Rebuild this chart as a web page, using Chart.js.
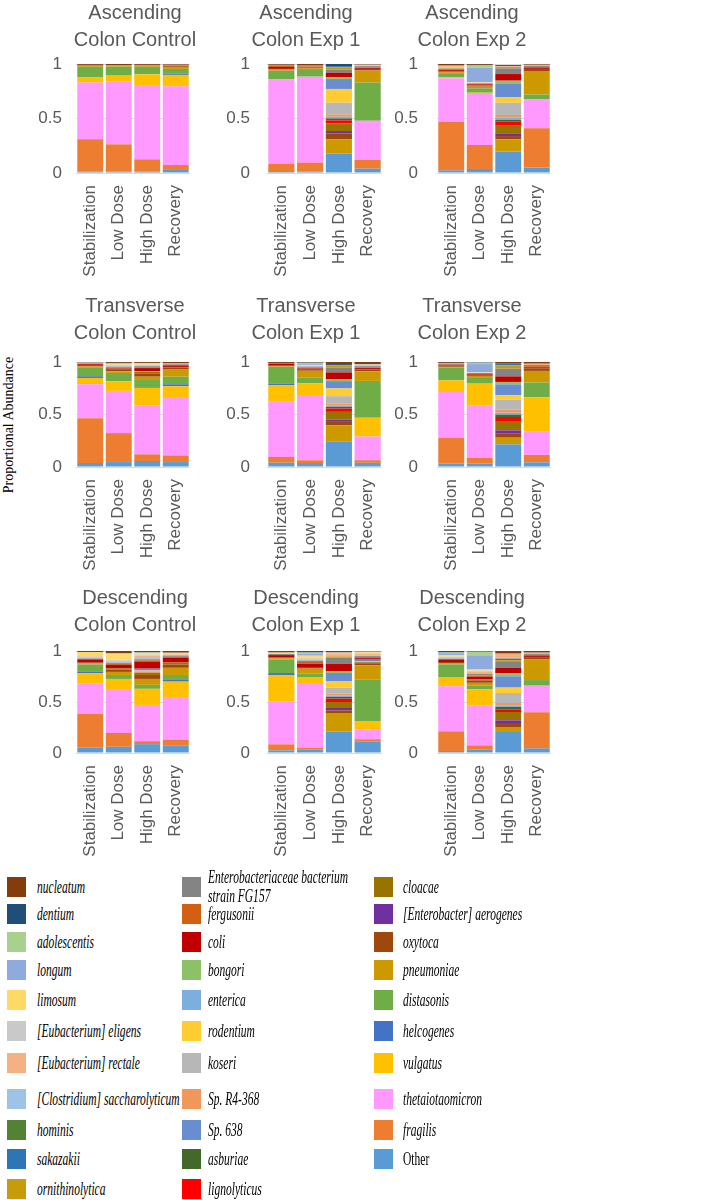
<!DOCTYPE html>
<html>
<head>
<meta charset="utf-8">
<script src="https://cdn.jsdelivr.net/npm/chart.js@4.4.1/dist/chart.umd.min.js"></script>
<style>
  body { margin: 0; background: #fff; }
  #page { position: relative; width: 705px; height: 1200px; overflow: hidden; background: #fff; }
  #page canvas { position: absolute; }
  .ytitle { position: absolute; left: 9px; top: 425px; transform: translate(-50%, -50%) rotate(-90deg);
            white-space: nowrap; font: 14px "Liberation Serif", "Times New Roman", serif; color: #000; }
  .sw { position: absolute; width: 19px; height: 20px; }
  .lt { position: absolute; font: italic 18px/19px "Liberation Serif", "Times New Roman", serif; color: #000;
        white-space: pre; transform: scaleX(0.64); transform-origin: left center; }
</style>
</head>
<body>
<div id="page"></div>
<script>
// categories
const stages = ['Stabilization', 'Low Dose', 'High Dose', 'Recovery'];
const panelTitles = [
  ['Ascending', 'Colon Control'], ['Ascending', 'Colon Exp 1'], ['Ascending', 'Colon Exp 2'],
  ['Transverse', 'Colon Control'], ['Transverse', 'Colon Exp 1'], ['Transverse', 'Colon Exp 2'],
  ['Descending', 'Colon Control'], ['Descending', 'Colon Exp 1'], ['Descending', 'Colon Exp 2']
];

// proportional abundance, 9 panels x 4 stages (panel order as panelTitles)
const other =        [0.015,0.015,0.012,0.028, 0.018,0.012,0.18,0.04, 0.024,0.037,0.196,0.05, 0.038,0.047,0.057,0.047, 0.041,0.038,0.245,0.04, 0.032,0.032,0.216,0.045, 0.055,0.061,0.087,0.071, 0.026,0.036,0.212,0.11, 0.02,0.036,0.206,0.045];
const fragilis =     [0.295,0.248,0.113,0.045, 0.065,0.083,0,0.08, 0.447,0.22,0,0.36, 0.427,0.276,0.063,0.063, 0.055,0.026,0,0.025, 0.244,0.054,0,0.07, 0.329,0.136,0.029,0.061, 0.059,0.016,0,0.025, 0.192,0.039,0,0.355];
const thetaiotaomicron = [0.52,0.575,0.675,0.722, 0.779,0.789,0,0.36, 0.398,0.468,0,0.26, 0.323,0.402,0.469,0.548, 0.525,0.621,0,0.225, 0.438,0.501,0,0.225, 0.3,0.422,0.355,0.416, 0.422,0.634,0,0.095, 0.442,0.392,0,0.26];
const vulgatus =     [0.05,0.055,0.105,0.105, 0,0,0,0, 0.01,0.012,0,0.005, 0.06,0.091,0.164,0.111, 0.159,0.111,0,0.18, 0.111,0.207,0,0.325, 0.097,0.107,0.158,0.152, 0.254,0.059,0,0.08, 0.091,0.157,0,0];
const helcogenes =   [0,0,0,0.01, 0,0,0,0, 0,0,0,0, 0.016,0,0,0.019, 0.016,0,0,0, 0,0,0,0, 0.019,0,0,0.016, 0.023,0,0,0, 0,0,0,0];
const distasonis =   [0.095,0.083,0.07,0.045, 0.077,0.061,0,0.35, 0.03,0.04,0,0.045, 0.086,0.08,0.076,0.072, 0.159,0.054,0,0.35, 0.121,0.054,0,0.14, 0.068,0.039,0.039,0.049, 0.134,0.033,0,0.41, 0.124,0.039,0,0.055];
const pneumoniae =   [0.008,0.01,0.01,0.018, 0.016,0.015,0.129,0.11, 0.015,0.015,0.113,0.21, 0.008,0.015,0.031,0.073, 0.005,0.058,0.153,0.09, 0.008,0.02,0.063,0.11, 0.01,0.03,0.058,0.07, 0.01,0.049,0.174,0.14, 0.012,0.025,0.049,0.205];
const oxytoca =      [0.005,0,0,0.007, 0,0,0.055,0.015, 0.008,0.008,0.03,0.025, 0.006,0.016,0.032,0.012, 0.005,0.01,0.032,0.02, 0.012,0.011,0.038,0.025, 0.008,0.024,0.039,0.033, 0.01,0.016,0.032,0.02, 0.011,0.024,0.039,0.02];
const aerogenes =    [0,0,0,0, 0,0,0.021,0, 0,0,0.025,0, 0,0,0,0, 0,0,0.022,0, 0,0,0.032,0, 0,0,0,0, 0,0,0.023,0, 0,0,0.026,0];
const cloacae =      [0,0,0,0, 0,0,0.071,0, 0,0.006,0.076,0, 0,0,0.015,0.008, 0,0.008,0.073,0, 0,0,0.089,0, 0,0.01,0.02,0.02, 0,0,0.059,0.01, 0,0.01,0.082,0];
const lignolyticus = [0,0,0,0, 0,0,0.027,0, 0.005,0,0.031,0, 0,0,0,0, 0,0,0.032,0, 0,0,0.038,0, 0,0,0,0, 0,0,0.033,0, 0,0,0.026,0];
const asburiae =     [0,0,0,0, 0,0,0.017,0, 0,0,0.015,0, 0,0,0,0, 0,0,0.016,0, 0,0,0.022,0, 0,0,0,0, 0,0,0.016,0, 0,0,0.023,0];
const enterica =     [0,0,0,0, 0,0,0.017,0, 0,0,0.022,0, 0,0,0,0, 0,0,0.012,0, 0,0,0.019,0, 0,0,0,0, 0,0,0.016,0, 0,0,0.016,0];
const spR4368 =      [0,0,0,0, 0,0,0.021,0, 0,0,0.024,0, 0,0,0,0, 0,0,0.02,0, 0,0,0.029,0, 0,0,0.015,0, 0,0,0.017,0, 0,0,0.023,0];
const koseri =       [0,0,0,0, 0,0,0.107,0, 0,0,0.113,0, 0,0,0,0, 0,0,0.07,0, 0,0,0.095,0, 0,0,0.012,0, 0,0,0.059,0.01, 0,0,0.098,0];
const rodentium =    [0,0,0,0, 0,0,0.126,0, 0,0,0.049,0, 0,0,0.005,0, 0,0,0.073,0, 0,0,0.042,0, 0,0,0,0, 0,0,0.065,0, 0,0,0.053,0];
const sp638 =        [0,0,0,0, 0,0,0.091,0, 0,0,0.123,0, 0,0,0,0, 0,0,0.07,0, 0,0,0.104,0, 0,0,0.015,0, 0,0,0.078,0.015, 0,0,0.111,0];
const bongori =      [0,0,0,0, 0,0,0.018,0, 0,0,0.03,0, 0,0,0,0, 0,0,0.016,0, 0,0,0.023,0, 0,0,0,0, 0,0,0.02,0, 0,0,0.032,0];
const coli =         [0,0,0,0, 0.018,0.005,0.04,0.008, 0.01,0.008,0.061,0.008, 0.015,0.01,0.03,0.015, 0.018,0.012,0.067,0.012, 0.008,0.008,0.053,0.01, 0.032,0.035,0.07,0.045, 0.022,0.032,0.072,0.015, 0.025,0.025,0.053,0.01];
const fergusonii =   [0.004,0.005,0.007,0.008, 0.012,0.012,0,0.007, 0,0,0,0.01, 0,0.008,0.008,0, 0,0.008,0,0.008, 0,0,0,0.01, 0,0.01,0.012,0.01, 0,0.017,0,0.01, 0,0.012,0,0.012];
const fg157 =        [0,0,0,0, 0.008,0.012,0.03,0.01, 0.008,0.008,0.052,0.01, 0.006,0.01,0.01,0.01, 0.008,0.01,0.048,0.01, 0.006,0.008,0.074,0.012, 0.008,0.01,0.01,0.012, 0.01,0.012,0.059,0.01, 0.008,0.015,0.055,0.01];
const ornithinolytica = [0,0,0,0, 0,0,0.02,0, 0.005,0,0.012,0, 0.005,0,0,0, 0,0,0.021,0, 0,0,0.031,0, 0,0,0,0, 0,0,0.012,0, 0,0,0.018,0];
const sakazakii =    [0,0,0,0, 0,0,0.005,0, 0,0,0,0, 0,0,0,0, 0,0,0,0, 0,0,0.016,0, 0,0,0,0, 0,0,0,0, 0,0,0.015,0];
const hominis =      [0,0,0,0, 0,0,0,0, 0,0,0,0, 0,0,0,0, 0,0,0,0, 0,0,0,0, 0,0,0,0, 0,0,0,0, 0,0,0,0];
const saccharolyticum = [0,0,0,0, 0,0,0,0, 0.01,0,0,0, 0,0.005,0,0, 0,0,0,0, 0,0,0,0, 0.01,0.01,0.012,0, 0,0.01,0,0.008, 0.008,0.01,0,0];
const rectale =      [0,0,0,0.005, 0,0,0,0.008, 0.008,0,0.008,0.01, 0,0.006,0.008,0.008, 0,0,0,0.01, 0.006,0,0,0.012, 0.01,0.01,0.025,0.01, 0,0.012,0.028,0.012, 0,0.012,0.049,0.012];
const eligens =      [0,0,0,0, 0,0,0,0.006, 0,0.005,0,0, 0.005,0.008,0.008,0, 0,0.008,0,0.01, 0,0.005,0,0, 0.012,0.01,0.01,0.01, 0,0.01,0.01,0.008, 0.01,0.01,0,0];
const limosum =      [0,0,0,0, 0,0,0,0, 0,0.005,0,0, 0,0.008,0.015,0, 0,0.008,0,0, 0,0.005,0,0, 0.032,0.055,0.01,0.008, 0.015,0.018,0,0.008, 0.015,0.012,0,0];
const longum =       [0,0,0,0, 0,0,0,0, 0,0.135,0,0, 0,0,0,0, 0,0.008,0,0, 0,0.075,0,0, 0,0,0,0, 0,0.016,0,0, 0.02,0.14,0,0];
const adolescentis = [0,0,0,0, 0,0,0,0, 0.007,0.02,0,0, 0,0.005,0,0, 0,0.012,0,0, 0,0.015,0,0, 0,0.01,0.01,0, 0,0.015,0,0.008, 0.007,0.035,0,0];
const dentium =      [0,0,0,0, 0,0,0.025,0, 0,0.005,0.01,0, 0,0.005,0,0, 0,0.003,0.01,0, 0.006,0.005,0,0, 0,0,0,0, 0,0.005,0,0, 0.005,0.007,0,0];
const nucleatum =    [0.008,0.009,0.008,0.007, 0.007,0.011,0,0.006, 0.015,0.008,0,0.007, 0.005,0.008,0.009,0.014, 0.009,0.005,0.02,0.02, 0.008,0,0.016,0.016, 0.01,0.021,0.014,0.017, 0.015,0.01,0.015,0.006, 0.01,0,0.026,0.016];

// stacking order, bottom to top
const series = [
  ['Other', other], ['fragilis', fragilis], ['thetaiotaomicron', thetaiotaomicron], ['vulgatus', vulgatus],
  ['helcogenes', helcogenes], ['distasonis', distasonis], ['pneumoniae', pneumoniae], ['oxytoca', oxytoca],
  ['[Enterobacter] aerogenes', aerogenes], ['cloacae', cloacae], ['lignolyticus', lignolyticus], ['asburiae', asburiae],
  ['enterica', enterica], ['Sp. R4-368', spR4368], ['koseri', koseri], ['rodentium', rodentium], ['Sp. 638', sp638],
  ['bongori', bongori], ['coli', coli], ['fergusonii', fergusonii], ['Enterobacteriaceae bacterium strain FG157', fg157],
  ['ornithinolytica', ornithinolytica], ['sakazakii', sakazakii], ['hominis', hominis],
  ['[Clostridium] saccharolyticum', saccharolyticum], ['[Eubacterium] rectale', rectale], ['[Eubacterium] eligens', eligens],
  ['limosum', limosum], ['longum', longum], ['adolescentis', adolescentis], ['dentium', dentium], ['nucleatum', nucleatum]
];

const colors = {
  'Other': '#5b9bd5', 'fragilis': '#ed7d31', 'thetaiotaomicron': '#ff99ff', 'vulgatus': '#ffc000',
  'helcogenes': '#4472c4', 'distasonis': '#70ad47', 'pneumoniae': '#cc9900', 'oxytoca': '#9e480e',
  '[Enterobacter] aerogenes': '#7030a0', 'cloacae': '#997300', 'lignolyticus': '#ff0000', 'asburiae': '#43682b',
  'enterica': '#7cafdd', 'Sp. R4-368': '#f1975a', 'koseri': '#b7b7b7', 'rodentium': '#ffcd33', 'Sp. 638': '#698ed0',
  'bongori': '#8cc168', 'coli': '#c00000', 'fergusonii': '#d26012', 'Enterobacteriaceae bacterium strain FG157': '#848484',
  'ornithinolytica': '#c79c0b', 'sakazakii': '#2e75b6', 'hominis': '#548235',
  '[Clostridium] saccharolyticum': '#9dc3e6', '[Eubacterium] rectale': '#f4b183', '[Eubacterium] eligens': '#c9c9c9',
  'limosum': '#ffd966', 'longum': '#8faadc', 'adolescentis': '#a9d18e', 'dentium': '#1f4e79', 'nucleatum': '#843c0c'
};

const legendColumns = [
  ['nucleatum', 'dentium', 'adolescentis', 'longum', 'limosum', '[Eubacterium] eligens', '[Eubacterium] rectale',
   '[Clostridium] saccharolyticum', 'hominis', 'sakazakii', 'ornithinolytica'],
  ['Enterobacteriaceae bacterium strain FG157', 'fergusonii', 'coli', 'bongori', 'enterica', 'rodentium', 'koseri',
   'Sp. R4-368', 'Sp. 638', 'asburiae', 'lignolyticus'],
  ['cloacae', '[Enterobacter] aerogenes', 'oxytoca', 'pneumoniae', 'distasonis', 'helcogenes', 'vulgatus',
   'thetaiotaomicron', 'fragilis', 'Other']
];

// layout (pixels)
const rows = [
  { titleY: 13, top: 64, bottom: 173 },
  { titleY: 306, top: 362, bottom: 467 },
  { titleY: 598, top: 651, bottom: 753 }
];
const cols = [
  { cx: 135, left: 76, right: 190, tickGap: 14 },
  { cx: 306, left: 267, right: 382, tickGap: 17 },
  { cx: 472, left: 437, right: 551, tickGap: 19 }
];
const legendRowY = [887, 914, 942, 970, 1000, 1031, 1063, 1099, 1130, 1159, 1189];
const legendColX = [{ sw: 7, text: 37 }, { sw: 182, text: 208 }, { sw: 374, text: 403 }];

const page = document.getElementById('page');
const grey = '#595959';
const sans = '"Liberation Sans", Arial, sans-serif';
const xH = 115;

panelTitles.forEach((title, p) => {
  const row = rows[Math.floor(p / 3)];
  const col = cols[p % 3];
  const L = col.left - 50;
  const W = 2 * (col.cx - L);
  const T = Math.round(row.titleY - 13.5);
  const H = row.bottom - T + xH;
  const yW = col.left - L;
  const gapR = L + W - col.right;

  const cv = document.createElement('canvas');
  cv.width = W;
  cv.height = H;
  cv.style.left = L + 'px';
  cv.style.top = T + 'px';
  page.appendChild(cv);

  new Chart(cv.getContext('2d'), {
    type: 'bar',
    data: {
      labels: stages,
      datasets: series.map(([name, vals]) => ({
        label: name,
        data: vals.slice(p * 4, p * 4 + 4),
        backgroundColor: colors[name],
        borderWidth: 0,
        barPercentage: 0.91,
        categoryPercentage: 1
      }))
    },
    options: {
      responsive: false,
      animation: false,
      devicePixelRatio: 1,
      layout: { padding: 0 },
      plugins: {
        legend: { display: false },
        tooltip: { enabled: false },
        title: {
          display: true,
          text: title,
          color: grey,
          font: { family: sans, size: 20, weight: 'normal', lineHeight: 1.35 },
          padding: { top: 0, bottom: row.top - T - 54 }
        }
      },
      scales: {
        x: {
          stacked: true,
          grid: { display: false },
          border: { display: false },
          ticks: { autoSkip: false, maxRotation: 90, minRotation: 90, padding: 4, color: grey,
                   font: { family: sans, size: 17 } },
          afterFit: s => { s.height = xH; s.paddingLeft = 0; s.paddingRight = gapR; }
        },
        y: {
          stacked: true,
          min: 0,
          max: 1,
          grid: { color: '#d9d9d9', drawTicks: false },
          border: { display: false },
          ticks: { stepSize: 0.5, padding: col.tickGap, color: grey, font: { family: sans, size: 17 },
                   callback: v => String(v) },
          afterFit: s => { s.width = yW; }
        }
      }
    }
  });
});

// shared y axis title
const yt = document.createElement('div');
yt.className = 'ytitle';
yt.textContent = 'Proportional Abundance';
page.appendChild(yt);

// shared legend
legendColumns.forEach((names, c) => {
  names.forEach((name, r) => {
    const y = legendRowY[r];
    const sw = document.createElement('div');
    sw.className = 'sw';
    sw.style.left = legendColX[c].sw + 'px';
    sw.style.top = (y - 10) + 'px';
    sw.style.background = colors[name];
    page.appendChild(sw);
    const t = document.createElement('div');
    t.className = 'lt';
    const txt = name.replace(' strain', '\nstrain');
    const lines = txt.split('\n').length;
    t.textContent = txt;
    if (name === 'Other') t.style.fontStyle = 'normal';
    t.style.left = legendColX[c].text + 'px';
    t.style.top = (y - 9.5 * lines - (lines > 1 ? 0.5 : 0)) + 'px';
    page.appendChild(t);
  });
});
</script>
</body>
</html>
